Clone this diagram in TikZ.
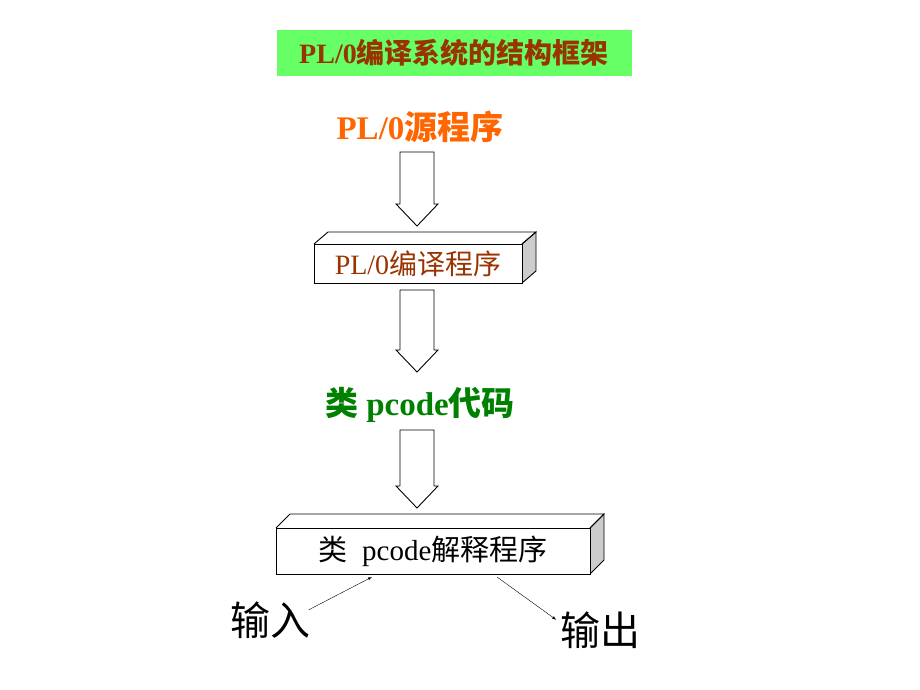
\documentclass[tikz,border=0pt]{standalone}
\usepackage{fontspec}
\setmainfont{Liberation Serif}
\newfontfamily\cjk{Noto Sans CJK SC}
\usetikzlibrary{positioning,calc}
\definecolor{titlered}{HTML}{993300}
\definecolor{srcorange}{HTML}{FF6600}
\definecolor{codegreen}{HTML}{008000}
\definecolor{titlebg}{HTML}{66FF66}

% hollow down arrow: #1 top centre, #2 tip y
\newcommand{\downblock}[2]{%
  \draw ($(#1)+(-17,0)$) -- ++(34,0) |- ($(#1)+(21,#2-22)$)
    -- ($(#1)+(0,#2)$) -- ($(#1)+(-21,#2-22)$) -| cycle;}

\begin{document}
\begin{tikzpicture}[
        x=1pt, y=-1pt,
        every path/.style={line width=0.9pt},
        box/.style={draw, minimum width=#1, inner sep=0pt, fill=white},
        bigtext/.style={font=\bfseries\fontsize{33}{38}\selectfont}
    ]
    \useasboundingbox (0,0) rectangle (920,690);

    % Title
    \node (title) [fill=titlebg, minimum width=355pt, minimum height=46pt,
        text=titlered, font=\bfseries\fontsize{28}{32}\selectfont] at (454,53)
        {PL/0{\cjk 编译系统的结构框架}};

    \node (src) [bigtext, text=srcorange] at (420,127) {PL/0{\cjk 源程序}};
    \coordinate (a1) at (417,152);
    \downblock{a1}{74}

    % compiler box
    \fill[gray!40] (522,244) -- (536,232) -- (536,271) -- (522,283) -- cycle;
    \draw (314,244) -- (328,232) -- (536,232) -- (522,244);
    \draw (522,244) -- (536,232) -- (536,271) -- (522,283);
    \node (comp) [box=208pt, minimum height=39pt, text=titlered,
        font=\fontsize{28}{32}\selectfont] at (418,263.5) {PL/0{\cjk 编译程序}};
    \coordinate (a2) at (417,290);
    \downblock{a2}{82}

    \node (pcode) [bigtext, text=codegreen] at (420,405) {{\cjk 类} pcode{\cjk 代码}};
    \coordinate (a3) at (417,430);
    \downblock{a3}{78}

    % interpreter box
    \fill[gray!40] (590,528) -- (604,514) -- (604,560) -- (590,574) -- cycle;
    \draw (276,528) -- (290,514) -- (604,514) -- (590,528);
    \draw (590,528) -- (604,514) -- (604,560) -- (590,574);
    \node (interp) [box=314pt, minimum height=46pt,
        font=\fontsize{29}{33}\selectfont] at (433,551) {{\cjk 类}\ \ pcode{\cjk 解释程序}};

    \node (in) [font=\cjk\fontsize{40}{44}\selectfont] at (270,620) {输入};
    \node (out) [font=\cjk\fontsize{40}{44}\selectfont] at (600,630) {输出};
    \coordinate (inend) at (372,577);
    \coordinate (outstart) at (497,577);
    \draw[-latex, thin] ($(in.north east)+(-5,12)$) -- (inend);
    \draw[-latex, thin] (outstart) -- ($(out.north west)+(0,12)$);
\end{tikzpicture}
\end{document}
